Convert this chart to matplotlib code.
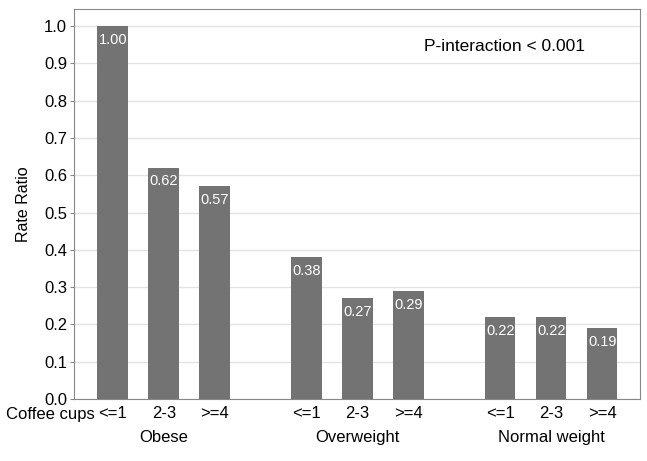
import numpy as np
import matplotlib.pyplot as plt
from matplotlib.transforms import blended_transform_factory

plt.rcParams['font.family'] = ['Liberation Sans', 'DejaVu Sans']

# Data
groups = ['Obese', 'Overweight', 'Normal weight']
cups = ['<=1', '2-3', '>=4']
obese = [1.00, 0.62, 0.57]
overweight = [0.38, 0.27, 0.29]
normal = [0.22, 0.22, 0.19]

BAR_COLOR = '#737373'
GAP = 1.8  # distance between groups, in bar steps

values = obese + overweight + normal
positions = []
for g in range(len(groups)):
    for c in range(len(cups)):
        positions.append(g * (2 + GAP) + c)
positions = np.array(positions)

fig = plt.figure(figsize=(6.47, 4.61), dpi=100)
ax = fig.add_axes([0.1144, 0.1345, 0.8746, 0.8455])

ax.bar(positions, values, width=0.6, color=BAR_COLOR, zorder=3)
for x, v in zip(positions, values):
    ax.text(x, v - 0.018, f'{v:.2f}', ha='center', va='top', color='white',
            fontsize=10.5, zorder=4)

ax.set_xlim(-0.76, 10.34)
ax.set_ylim(0, 1.045)
ax.set_yticks(np.arange(0, 1.01, 0.1))
ax.set_yticklabels([f'{t:.1f}' for t in np.arange(0, 1.01, 0.1)], fontsize=12)
ax.yaxis.grid(True, color='#e3e3e3', linewidth=1, zorder=0)
ax.set_ylabel('Rate Ratio', fontsize=11.5, labelpad=9)

ax.set_xticks(positions)
ax.set_xticklabels(cups * len(groups), fontsize=12)
ax.tick_params(axis='x', length=0, pad=5)
ax.tick_params(axis='y', length=3, color='#888888', pad=2)

for s in ax.spines.values():
    s.set_color('#888888')

trans = blended_transform_factory(ax.transAxes, ax.transAxes)
ax.text(0.036, -0.04, 'Coffee cups', transform=trans, ha='right', va='center',
        fontsize=12)

group_centers = [positions[g * 3 + 1] for g in range(len(groups))]
trans2 = blended_transform_factory(ax.transData, ax.transAxes)
for xc, name in zip(group_centers, groups):
    ax.text(xc, -0.1, name, transform=trans2, ha='center', va='center', fontsize=12)

ax.text(7.69, 0.944, 'P-interaction < 0.001', ha='center', va='center', fontsize=12.5)

fig.savefig('out.png', dpi=100)
